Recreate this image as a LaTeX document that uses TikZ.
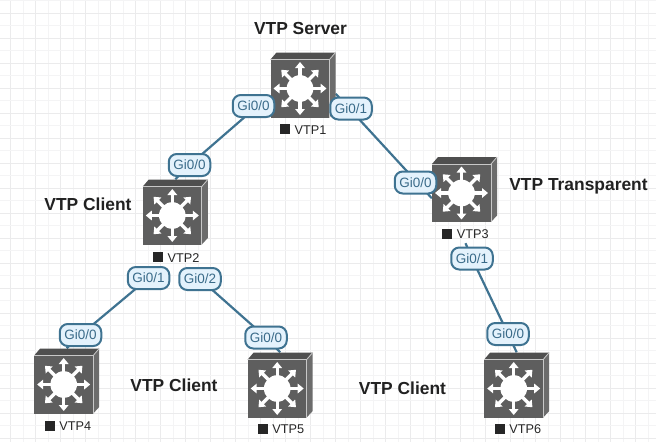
\documentclass[tikz,border=0pt]{standalone}
\usepackage{fontspec}
\setmainfont{Liberation Sans}
\usetikzlibrary{positioning}
\usetikzlibrary{calc}
\usetikzlibrary{arrows.meta}
\usetikzlibrary{backgrounds}
\definecolor{gridmajor}{HTML}{EBEBEC}
\definecolor{gridminor}{HTML}{F4F4F5}
\definecolor{linkblue}{HTML}{3F7391}
\definecolor{portfill}{HTML}{E4F2FC}
\definecolor{porttext}{HTML}{3A6B89}
\definecolor{swfront}{HTML}{5E5E5E}
\definecolor{swtop}{HTML}{4F4F4F}
\definecolor{swside}{HTML}{6C6C6C}
\definecolor{swedge}{HTML}{C8C8C8}
% box of one switch, drawn around its named node
\newcommand{\vtpswitch}[3]{
    \node [swbox] (#1) at (#2,#3) {};
    \begin{scope}[shift={(#1.center)}]
      \fill [swtop] (-32.5,-25.5) -- (-26.5,-32.5) -- (32.5,-32.5) -- (26.5,-25.5) -- cycle;
      \fill [swside] (26.5,-25.5) -- (32.5,-32.5) -- (32.5,26) -- (26.5,32.5) -- cycle;
      \fill [swfront] (-32.5,-25.5) rectangle (26.5,32.5);
      \draw [swedge, line width=0.8pt] (-32.5,-25.5) -- (26.5,-25.5) -- (26.5,32.5);
      \draw [swedge, line width=0.8pt] (26.5,-25.5) -- (32.5,-32.5);
      \foreach \a in {0,45,...,315}
        \draw [spoke] ($(-3,3.5)+(\a:11)$) -- ($(-3,3.5)+(\a:26.5)$);
      \fill [white] (-3,3.5) circle (13.3);
    \end{scope}
}
\begin{document}
\begin{tikzpicture} [x=1pt, y=-1pt]
% -------------------------------------------------
\tikzset{
  swbox/.style={minimum width=65pt, minimum height=65pt, inner sep=0pt},
  spoke/.style={white, line width=3.4pt, -{Triangle[width=9.5pt, length=6pt]}},
  port/.style={draw=linkblue, fill=portfill, text=porttext, line width=2pt, rounded corners=8pt,
    minimum width=41.5pt, minimum height=22pt, inner sep=0pt, font=\fontsize{13.5}{16}\selectfont},
  devlabel/.style={text=black!85, inner sep=0pt, minimum height=18pt, font=\fontsize{12.7}{15}\selectfont},
  role/.style={text=black!87, inner sep=0pt, font=\fontsize{17.4}{20}\bfseries\selectfont},
  link/.style={draw=linkblue, line width=2.2pt},
}
    \useasboundingbox (0,0) rectangle (656,442);

    \vtpswitch{vtp1}{303}{85}
    \vtpswitch{vtp2}{175.3}{212}
    \vtpswitch{vtp3}{464.5}{189.5}
    \vtpswitch{vtp4}{66.7}{381}
    \vtpswitch{vtp5}{280.2}{385}
    \vtpswitch{vtp6}{516.7}{385}

    \node [devlabel] (lbl1) at (303.3,129) {\rule{10pt}{10pt}\hspace{4.5pt}VTP1};
    \node [devlabel] (lbl2) at (176.3,257) {\rule{10pt}{10pt}\hspace{4.5pt}VTP2};
    \node [devlabel] (lbl3) at (465.5,234) {\rule{10pt}{10pt}\hspace{4.5pt}VTP3};
    \node [devlabel] (lbl4) at (68,425.5) {\rule{10pt}{10pt}\hspace{4.5pt}VTP4};
    \node [devlabel] (lbl5) at (281,429) {\rule{10pt}{10pt}\hspace{4.5pt}VTP5};
    \node [devlabel] (lbl6) at (518,429) {\rule{10pt}{10pt}\hspace{4.5pt}VTP6};

    \node [port] (p10) at (253.5,106) {Gi0/0};
    \node [port] (p11) at (351,108.5) {Gi0/1};
    \node [port] (p20) at (189.5,165) {Gi0/0};
    \node [port] (p21) at (148.6,278) {Gi0/1};
    \node [port] (p22) at (200,279) {Gi0/2};
    \node [port] (p30) at (415.5,182.5) {Gi0/0};
    \node [port] (p31) at (472,258.5) {Gi0/1};
    \node [port] (p40) at (80.5,335) {Gi0/0};
    \node [port] (p50) at (266,337.5) {Gi0/0};
    \node [port] (p60) at (508,334) {Gi0/0};

    \node [role] (server) at (300.5,29) {VTP Server};
    \node [role] (client2) at (88,204.5) {VTP Client};
    \node [role] (transp) at (578.5,186) {VTP Transparent};
    \node [role] (client4) at (174,385) {VTP Client};
    \node [role] (client6) at (402.5,388.5) {VTP Client};

    \begin{pgfonlayer}{background}
      \fill [white] (0,0) rectangle (656,442);
      \foreach \k in {0,...,25} {
        \draw [gridminor, line width=1pt] ({23.1+25*\k},0) -- ({23.1+25*\k},442);
        \draw [gridmajor, line width=1pt] ({10.6+25*\k},0) -- ({10.6+25*\k},442);
      }
      \foreach \k in {0,...,17} {
        \draw [gridminor, line width=1pt] (0,{0.6+25*\k}) -- (656,{0.6+25*\k});
        \draw [gridminor, line width=1pt] (0,{25.6+25*\k}) -- (656,{25.6+25*\k});
        \draw [gridmajor, line width=1pt] (0,{13.1+25*\k}) -- (656,{13.1+25*\k});
      }
      \path [link] ([yshift=-3.4pt]p10.center) -- (p20.center);
      \path [link] (p20.center) -- (vtp2.north);
      \path [link] (vtp1.-15) -- (vtp3.195);
      \path [link] (p21.center) -- (p40.center);
      \path [link] (p40.center) -- (vtp4.north);
      \path [link] (p22.center) -- (p50.center);
      \path [link] (p50.center) -- (vtp5.north);
      \path [link] (lbl3.south) -- (p31.center);
      \path [link] (p31.center) -- (p60.center);
      \path [link] (p60.center) -- (vtp6.north);
    \end{pgfonlayer}
\end{tikzpicture}
\end{document}
